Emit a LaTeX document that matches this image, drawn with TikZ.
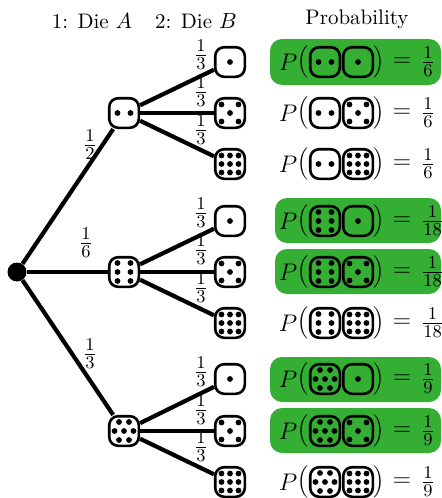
\documentclass[tikz,border=0pt]{standalone}
\usepackage{amsmath}
\definecolor{hitgreen}{RGB}{52,175,52}
\newcommand{\faceone}{0/0}
\newcommand{\facetwo}{-6.5/0,6.5/0}
\newcommand{\facefive}{-8.5/-8.5,8.5/-8.5,0/0,-8.5/8.5,8.5/8.5}
\newcommand{\facesix}{-6.5/-9,6.5/-9,-6.5/0,6.5/0,-6.5/9,6.5/9}
\newcommand{\faceseven}{-5/-9,5/-9,-9.5/0,0/0,9.5/0,-5/9,5/9}
\newcommand{\facenine}{-8.5/-8.5,0/-8.5,8.5/-8.5,-8.5/0,0/0,8.5/0,-8.5/8.5,0/8.5,8.5/8.5}
% a die: node plus its pips
\newcommand{\die}[3]{%
	\node[die] (#1) at #2 {};
	\foreach \px/\py in #3 {\fill ([shift={(\px,\py)}]#1.center) circle [radius=1.45pt];}
}
% one line of the probability column
\newcommand{\outcome}[5]{%
	\node[prob] (#1p) at (288,#2) {$P$};
	\node[paren] (#1l) at (303.5,#2) {$\Bigl($};
	\die{#1x}{(325,#2)}{#3}
	\die{#1y}{(358,#2)}{#4}
	\node[paren] (#1r) at (379.5,#2) {$\Bigr)$};
	\node[prob] (#1e) at (402,#2) {$=$};
	\node[prob, anchor=west] (#1f) at (420.5,#2) {$\frac{1}{#5}$};
}
\begin{document}
\begin{tikzpicture}[x=0.5pt, y=-0.5pt,
	die/.style = {draw, line width=1.3pt, minimum size=14.8pt, inner sep=0pt, rounded corners=4.5pt},
	edge/.style = {line width=2.1pt},
	root/.style = {fill=black, circle, minimum size=9.5pt, inner sep=0pt},
	prob/.style = {font=\fontsize{13}{15}\selectfont, inner sep=0pt},
	paren/.style = {font=\fontsize{9}{11}\selectfont, inner sep=0pt},
	frac/.style = {font=\fontsize{13}{15}\selectfont, inner sep=0pt},
	head/.style = {font=\fontsize{10.5}{12}\selectfont, inner sep=0pt},
	hit/.style = {fill=hitgreen, rounded corners=6pt}]
	\useasboundingbox (0,0) rectangle (441,498);
	% headers
	\node[head] (h1) at (92,21) {1: Die $A$};
	\node[head] (h2) at (196,21) {2: Die $B$};
	\node[head] (h3) at (357,19) {Probability};
	% highlighted outcomes
	\fill[hit] (270,39) rectangle (441,85);
	\fill[hit] (275,198) rectangle (441,243);
	\fill[hit] (275,249) rectangle (441,294);
	\fill[hit] (270,357) rectangle (441,402);
	\fill[hit] (270,408) rectangle (441,453);
	% tree
	\node[root] (r) at (17,272) {};
	\die{a}{(124,113)}{\facetwo}
	\die{b}{(124,272)}{\facesix}
	\die{c}{(124,431)}{\faceseven}
	\die{a1}{(230,62)}{\faceone}
	\die{a2}{(230,113)}{\facefive}
	\die{a3}{(230,164)}{\facenine}
	\die{b1}{(230,221)}{\faceone}
	\die{b2}{(230,272)}{\facefive}
	\die{b3}{(230,323)}{\facenine}
	\die{c1}{(230,379)}{\faceone}
	\die{c2}{(230,431)}{\facefive}
	\die{c3}{(230,482)}{\facenine}
	\draw[edge] (r) -- (a);
	\draw[edge] (r) -- (b);
	\draw[edge] (r) -- (c);
	\draw[edge] (a) -- (a1);
	\draw[edge] (a) -- (a2);
	\draw[edge] (a) -- (a3);
	\draw[edge] (b) -- (b1);
	\draw[edge] (b) -- (b2);
	\draw[edge] (b) -- (b3);
	\draw[edge] (c) -- (c1);
	\draw[edge] (c) -- (c2);
	\draw[edge] (c) -- (c3);
	% branch labels
	\node[frac] (la) at (90,145) {$\frac{1}{2}$};
	\node[frac] (lb) at (86,243) {$\frac{1}{6}$};
	\node[frac] (lc) at (90,354) {$\frac{1}{3}$};
	\node[frac] (la1) at (201,55) {$\frac{1}{3}$};
	\node[frac] (la2) at (201,92) {$\frac{1}{3}$};
	\node[frac] (la3) at (201,130) {$\frac{1}{3}$};
	\node[frac] (lb1) at (201,213) {$\frac{1}{3}$};
	\node[frac] (lb2) at (201,250) {$\frac{1}{3}$};
	\node[frac] (lb3) at (201,288) {$\frac{1}{3}$};
	\node[frac] (lc1) at (201,372) {$\frac{1}{3}$};
	\node[frac] (lc2) at (201,410) {$\frac{1}{3}$};
	\node[frac] (lc3) at (201,447) {$\frac{1}{3}$};
	% outcomes
	\outcome{p1}{62}{\facetwo}{\faceone}{6}
	\outcome{p2}{113}{\facetwo}{\facefive}{6}
	\outcome{p3}{164}{\facetwo}{\facenine}{6}
	\outcome{p4}{221}{\facesix}{\faceone}{18}
	\outcome{p5}{272}{\facesix}{\facefive}{18}
	\outcome{p6}{323}{\facesix}{\facenine}{18}
	\outcome{p7}{379}{\faceseven}{\faceone}{9}
	\outcome{p8}{431}{\faceseven}{\facefive}{9}
	\outcome{p9}{482}{\faceseven}{\facenine}{9}
\end{tikzpicture}
\end{document}
